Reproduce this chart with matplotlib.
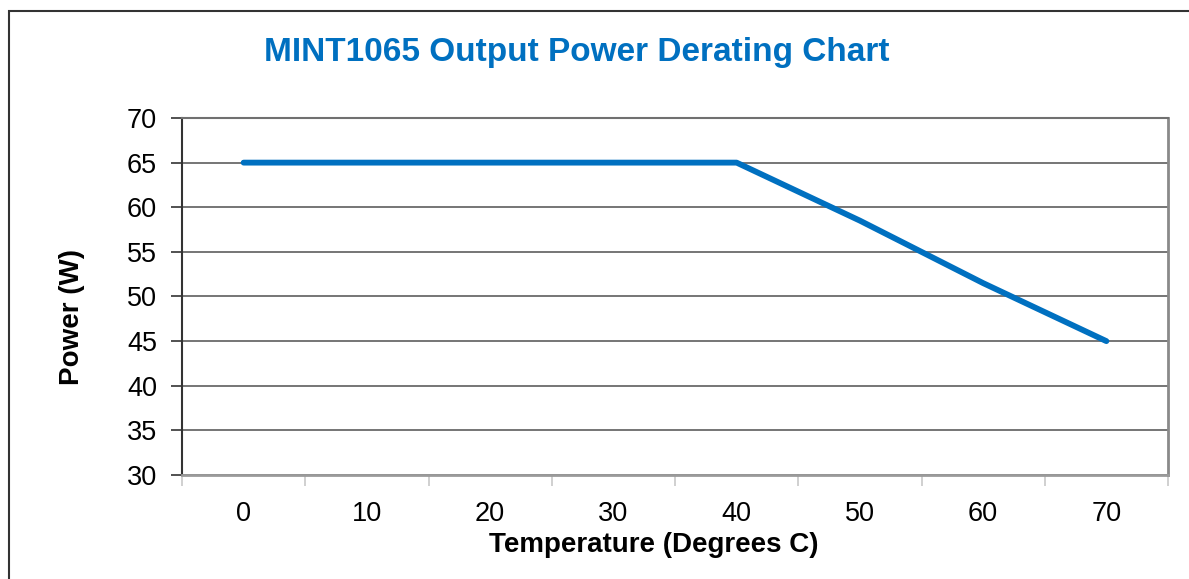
import matplotlib.pyplot as plt
from matplotlib.patches import Rectangle

plt.rcParams['font.family'] = ['Liberation Sans', 'DejaVu Sans']

# Données
temperatures = ['0', '10', '20', '30', '40', '50', '60', '70']
puissance = [65, 65, 65, 65, 65, 58.5, 51.5, 45]
y_ticks = [30, 35, 40, 45, 50, 55, 60, 65, 70]

fig = plt.figure(figsize=(11.89, 5.79), dpi=100)
ax = fig.add_axes([182/1189, 104/579, 986/1189, 357/579])

x = list(range(len(temperatures)))
ax.plot(x, puissance, color='#0070C0', lw=4.2, solid_capstyle='round', zorder=3)

ax.set_xlim(-0.5, len(temperatures) - 0.5)
ax.set_ylim(30, 70)
ax.set_yticks(y_ticks)
ax.set_xticks(x)
ax.set_xticklabels(temperatures)
ax.set_xticks([i - 0.5 for i in range(len(temperatures) + 1)], minor=True)

ax.grid(axis='y', color='#505050', lw=1.1)
ax.set_axisbelow(True)

ax.tick_params(axis='y', labelsize=19.5, length=8, width=1.2, color='#333333', pad=10)
ax.tick_params(axis='x', which='major', labelsize=19.5, length=0, pad=19)
ax.tick_params(axis='x', which='minor', length=8, width=1.2, color='#c8c8c8', direction='out')

ax.spines['left'].set_color('#333333')
ax.spines['left'].set_linewidth(1.5)
ax.spines['right'].set_color('#8a8a8a')
ax.spines['right'].set_linewidth(2)
ax.spines['bottom'].set_color('#9a9a9a')
ax.spines['bottom'].set_linewidth(2)
ax.spines['top'].set_color('#707070')
ax.spines['top'].set_linewidth(1.5)

ax.set_xlabel('Temperature (Degrees C)', fontsize=20, fontweight='bold')
ax.xaxis.set_label_coords((654 - 182) / 986, -(545 - 475) / 357)
ax.set_ylabel('Power (W)', fontsize=20, fontweight='bold')
ax.yaxis.set_label_coords(-(182 - 72) / 986, (475 - 317) / 357)
ax.xaxis.label.set_va('center')
ax.yaxis.label.set_va('center')

fig.text(577/1189, 1 - 53/579, 'MINT1065 Output Power Derating Chart', color='#0070C0',
         fontsize=24, fontweight='bold', ha='center', va='center')

# Cadre autour de la figure
fig.patches.append(Rectangle((9/1189, -0.1), 1.2, 1.1 - 11/579, transform=fig.transFigure,
                             fill=False, edgecolor='#333333', lw=1.5))

fig.savefig('out.png', dpi=100)
